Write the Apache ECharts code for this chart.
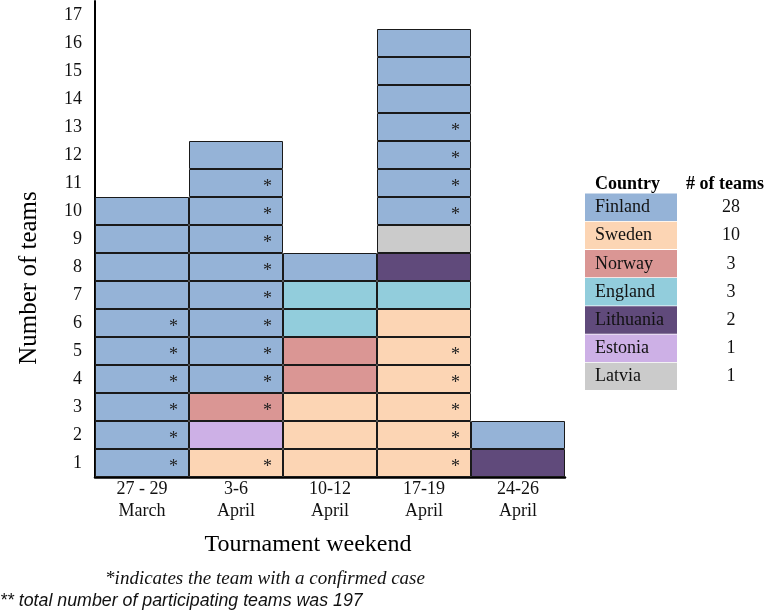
<!DOCTYPE html>
<html>
<head>
<meta charset="utf-8">
<script src="https://cdn.jsdelivr.net/npm/echarts@6/dist/echarts.min.js"></script>
<style>
  html, body { margin: 0; padding: 0; background: #fff; }
  #chart { width: 768px; height: 612px; }
</style>
</head>
<body>
<div id="chart"></div>
<script>
const weekends = ["27 - 29\nMarch", "3-6\nApril", "10-12\nApril", "17-19\nApril", "24-26\nApril"];
const countries = ["Finland", "Sweden", "Norway", "England", "Lithuania", "Estonia", "Latvia"];
const countryColors = ["#95b3d7", "#fcd5b4", "#da9694", "#92cddc", "#604a7b", "#cdb0e6", "#cbcbcb"];
const yTicks = ["1", "2", "3", "4", "5", "6", "7", "8", "9", "10", "11", "12", "13", "14", "15", "16", "17"];

// teams per weekend, bottom to top (index into countries)
const teamsMar27 = [0, 0, 0, 0, 0, 0, 0, 0, 0, 0];
const teamsApr3 = [1, 5, 2, 0, 0, 0, 0, 0, 0, 0, 0, 0];
const teamsApr10 = [1, 1, 1, 2, 2, 3, 3, 0];
const teamsApr17 = [1, 1, 1, 1, 1, 1, 3, 4, 6, 0, 0, 0, 0, 0, 0, 0];
const teamsApr24 = [4, 0];

// 1 = team with a confirmed case
const casesMar27 = [1, 1, 1, 1, 1, 1, 0, 0, 0, 0];
const casesApr3 = [1, 0, 1, 1, 1, 1, 1, 1, 1, 1, 1, 0];
const casesApr10 = [0, 0, 0, 0, 0, 0, 0, 0];
const casesApr17 = [1, 1, 1, 1, 1, 0, 0, 0, 0, 1, 1, 1, 1, 0, 0, 0];
const casesApr24 = [0, 0];

const teams = [teamsMar27, teamsApr3, teamsApr10, teamsApr17, teamsApr24];
const cases = [casesMar27, casesApr3, casesApr10, casesApr17, casesApr24];

const serif = "Liberation Serif";
const chart = echarts.init(document.getElementById("chart"));

// one stacked series per level, each cell is one team
const levels = Math.max(...teams.map((t) => t.length));
const series = [];
for (let i = 0; i < levels; i++) {
  series.push({
    type: "bar",
    stack: "teams",
    yAxisIndex: 0,
    barCategoryGap: 0,
    barWidth: "100%",
    itemStyle: { borderColor: "#1a1a1a", borderWidth: 1 },
    label: {
      position: "insideRight",
      distance: 11,
      formatter: "*",
      color: "#222",
      fontFamily: serif,
      fontSize: 18,
      offset: [0, 4],
    },
    data: teams.map((t, w) =>
      i < t.length
        ? {
            value: 1,
            itemStyle: { color: countryColors[t[i]] },
            label: { show: cases[w][i] === 1 },
          }
        : "-"
    ),
  });
}

// legend table
const counts = countries.map((c, k) => teams.flat().filter((x) => x === k).length);
const legend = [
  { type: "text", left: 595, top: 175, style: { text: "Country", font: "bold 18px " + serif, fill: "#000" } },
  { type: "text", left: 686, top: 175, style: { text: "# of teams", font: "bold 18px " + serif, fill: "#000" } },
];
countries.forEach((c, k) => {
  const y = 193.5 + k * 28.2;
  legend.push({ type: "rect", shape: { x: 585, y: y, width: 92, height: 27.4 }, style: { fill: countryColors[k] } });
  legend.push({
    type: "text",
    x: 595,
    y: y + 14,
    style: { text: c, font: "18px " + serif, fill: "#111", verticalAlign: "middle" },
  });
  legend.push({
    type: "text",
    x: 731,
    y: y + 14,
    style: { text: String(counts[k]), font: "18px " + serif, fill: "#111", align: "center", verticalAlign: "middle" },
  });
});

const option = {
  animation: false,
  // whole-pixel cells (28 x 94) so shared borders stay crisp
  grid: { left: 95, right: 203, top: 1, bottom: 135 },
  xAxis: {
    type: "category",
    data: weekends,
    axisLine: { lineStyle: { color: "#000", width: 2.5 } },
    axisTick: { show: false },
    axisLabel: { color: "#111", fontFamily: serif, fontSize: 18, lineHeight: 22, margin: 1 },
  },
  yAxis: [
    {
      type: "value",
      min: 0,
      max: 17,
      interval: 1,
      axisLine: { show: false },
      axisTick: { show: false },
      axisLabel: { show: false },
      splitLine: { show: false },
    },
    {
      type: "category",
      position: "left",
      data: yTicks,
      axisLine: { lineStyle: { color: "#000", width: 2 } },
      axisTick: { show: false },
      axisLabel: { color: "#111", fontFamily: serif, fontSize: 18, margin: 13 },
    },
  ],
  graphic: [
    {
      type: "text",
      x: 29,
      y: 278,
      rotation: Math.PI / 2,
      style: { text: "Number of teams", font: "25px " + serif, fill: "#000", align: "center", verticalAlign: "middle" },
    },
    {
      type: "text",
      x: 308,
      y: 545,
      style: { text: "Tournament weekend", font: "24px " + serif, fill: "#000", align: "center", verticalAlign: "middle" },
    },
    {
      type: "text",
      x: 265,
      y: 579,
      style: { text: "*indicates the team with a confirmed case", font: "italic 19px " + serif, fill: "#111", align: "center", verticalAlign: "middle" },
    },
    {
      type: "text",
      x: 0,
      y: 601,
      style: { text: "** total number of participating teams was 197", font: "italic 17.8px Liberation Sans", fill: "#111", verticalAlign: "middle" },
    },
    ...legend,
  ],
  series: series,
};

chart.setOption(option);
</script>
</body>
</html>
